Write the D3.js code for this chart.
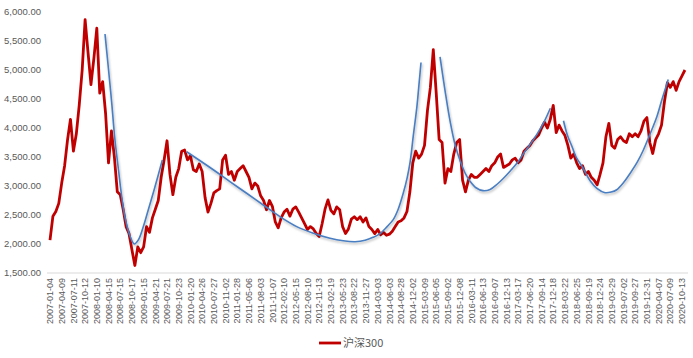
<!DOCTYPE html>
<html><head><meta charset="utf-8">
<script src="https://cdn.jsdelivr.net/npm/d3@7/dist/d3.min.js"></script>
<style>
html,body{margin:0;padding:0;background:#fff;}
svg{display:block;}
text{font-family:"Liberation Sans",Arial,sans-serif;fill:#595959;}
</style></head>
<body>
<svg id="chart" width="693" height="358"></svg>
<script>
// ---- data ----
const tickDates = ["2007-01-04","2007-04-09","2007-07-11","2007-10-12","2008-01-10","2008-04-15","2008-07-15","2008-10-17","2009-01-15","2009-04-21","2009-07-21","2009-10-23","2010-01-20","2010-04-26","2010-07-27","2010-11-02","2011-01-28","2011-05-06","2011-08-03","2011-11-07","2012-02-10","2012-05-15","2012-08-10","2012-11-13","2013-02-19","2013-05-23","2013-08-22","2013-11-27","2014-03-03","2014-06-03","2014-08-28","2014-12-02","2015-03-09","2015-06-05","2015-09-02","2015-12-08","2016-03-11","2016-06-13","2016-09-07","2016-12-13","2017-03-17","2017-06-20","2017-09-14","2017-12-18","2018-03-22","2018-06-25","2018-09-19","2018-12-24","2019-03-29","2019-07-02","2019-09-27","2019-12-31","2020-04-07","2020-07-09","2020-10-13"];
const samplesPerLabel = 4;
const yTicks = [1500,2000,2500,3000,3500,4000,4500,5000,5500,6000];
const seriesName = "沪深300";
const hs300 = [
2067,2480,2560,2700,3050,3350,3800,4150,3600,3900,4400,5000,5870,5300,4750,5200,5720,4600,4800,4250,
3400,3950,3500,2900,2850,2600,2300,2180,1900,1630,1950,1850,1950,2300,2200,2450,2600,2750,3150,3450,
3780,3200,2850,3150,3300,3600,3620,3450,3520,3280,3250,3380,3250,2800,2550,2700,2880,2920,2950,3450,
3530,3200,3250,3100,3250,3300,3350,3250,3150,2950,3050,3000,2830,2750,2590,2750,2650,2380,2280,2450,
2550,2600,2480,2600,2640,2550,2450,2350,2250,2300,2260,2180,2130,2350,2600,2760,2580,2520,2640,2590,
2300,2180,2260,2430,2470,2420,2470,2380,2450,2300,2250,2180,2250,2160,2200,2150,2170,2220,2300,2380,
2400,2450,2560,2900,3400,3600,3480,3550,3700,4300,4700,5350,4600,3800,3750,3050,3300,3250,3550,3750,
3800,3100,2900,3100,3200,3150,3150,3200,3250,3300,3250,3350,3400,3500,3550,3320,3350,3380,3450,3480,
3400,3450,3600,3650,3700,3780,3830,3880,4000,4100,4000,4150,4390,3920,4050,3950,3870,3700,3480,3550,
3400,3300,3350,3200,3250,3150,3100,3020,3200,3400,3850,4080,3700,3650,3800,3850,3780,3750,3900,3850,
3900,3850,3950,4120,4180,3750,3560,3800,3900,4050,4450,4780,4700,4800,4650,4800,4900,5000];
// trend curves: [sample index, value]
const trend1 = [[18.8,5620],[19.9,5060],[21.1,4430],[22.2,3790],[23.4,3280],[24.5,2820],[25.6,2470],[27.4,2130],[28.8,2000],[30.2,2070],[31.9,2300],[33.6,2590],[35.9,2990],[38.4,3450]];
const trend2 = [[46.7,3590],[55.8,3280],[61.5,3075],[67.2,2875],[72.9,2672],[78.6,2471],[84.3,2300],[90.0,2185],[95.7,2098],[100.2,2055],[104.3,2040],[107.7,2065],[110.4,2115],[112.8,2180],[115.2,2300],[117.3,2420],[119.0,2600],[120.7,2870],[122.1,3150],[123.1,3420],[124.2,3880],[125.4,4370],[126.2,4800],[126.8,5130]];
const trend3 = [[133.3,5225],[135.0,4650],[136.8,4100],[138.5,3700],[140.2,3430],[141.9,3220],[143.6,3080],[145.6,2970],[148.0,2920],[150.4,2940],[152.8,3030],[154.9,3130],[157.3,3260],[159.7,3400],[161.7,3550],[164.1,3720],[166.5,3900],[168.9,4110],[171.0,4340]];
const trend4 = [[175.5,4125],[176.8,3880],[178.4,3680],[179.8,3500],[181.8,3340],[184.6,3090],[186.9,2960],[189.7,2885],[191.8,2895],[193.7,2935],[195.9,3050],[198.3,3220],[200.7,3410],[202.8,3620],[205.1,3900],[207.4,4195],[209.2,4500],[211.3,4835]];
const trends = [trend1, trend2, trend3, trend4];

// ---- drawing ----
const svg = d3.select("#chart");
const x = d3.scaleLinear().domain([0, tickDates.length - 1]).range([50, 682]);
const y = d3.scaleLinear().domain([1500, 6000]).range([273, 12]);
const xs = i => x(i / samplesPerLabel);

const defs = svg.append("defs");
const f = defs.append("filter").attr("id","shadow").attr("x","-20%").attr("y","-20%").attr("width","140%").attr("height","140%");
f.append("feDropShadow").attr("dx",0.8).attr("dy",1.6).attr("stdDeviation",1.1).attr("flood-color","#000").attr("flood-opacity",0.3);

// axis line
svg.append("line").attr("x1", x.range()[0]-3).attr("x2", x.range()[1]+6)
  .attr("y1", y(1500)).attr("y2", y(1500)).attr("stroke","#d9d9d9").attr("stroke-width",1);

// y labels
svg.append("g").selectAll("text").data(yTicks).join("text")
  .attr("x", 41).attr("y", d => y(d)).attr("dy","0.35em")
  .attr("text-anchor","end").style("font-size","9.5px")
  .text(d => d3.format(",.2f")(d));

// x labels
svg.append("g").selectAll("text").data(tickDates).join("text")
  .attr("transform", (d,i) => `translate(${x(i)+3.2},${y(1500)+5}) rotate(-90)`)
  .attr("text-anchor","end").style("font-size","9px")
  .text(d => d);

// red series
const line = d3.line().x((d,i) => xs(i)).y(d => y(d));
svg.append("path").datum(hs300).attr("d", line)
  .attr("fill","none").attr("stroke","#C00000").attr("stroke-width",2.8)
  .attr("stroke-linejoin","round");

// blue trends
const tline = d3.line().x(d => xs(d[0])).y(d => y(d[1])).curve(d3.curveCatmullRom.alpha(0.5));
svg.append("g").selectAll("path").data(trends).join("path")
  .attr("d", tline).attr("fill","none").attr("stroke","#4A7EC2").attr("stroke-width",1.6)
  .attr("filter","url(#shadow)");

// legend
const lg = svg.append("g");
lg.append("line").attr("x1",319).attr("x2",341).attr("y1",343).attr("y2",343)
  .attr("stroke","#C00000").attr("stroke-width",2.8);
lg.append("text").attr("x",343).attr("y",343).attr("dy","0.35em")
  .style("font-family","'Noto Sans CJK SC','Liberation Sans',sans-serif").style("font-size","11px")
  .text(seriesName);
</script>
</body></html>
